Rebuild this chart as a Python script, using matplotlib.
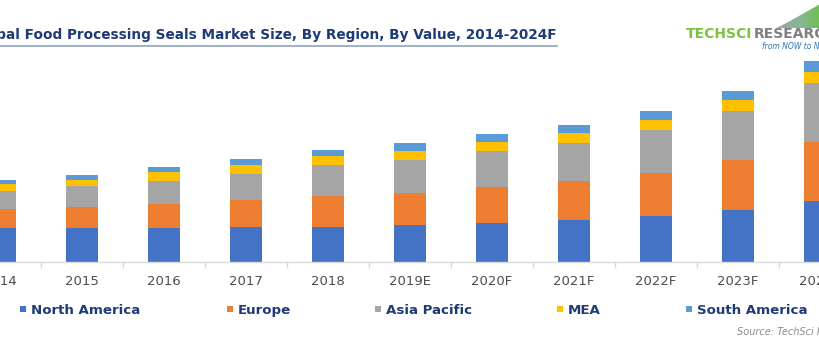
import matplotlib
matplotlib.use("Agg")
import matplotlib.pyplot as plt
import numpy as np
from matplotlib.patches import Polygon, Rectangle
from matplotlib.colors import LinearSegmentedColormap

# ---- data (arbitrary units) ----
years = ["2014", "2015", "2016", "2017", "2018", "2019E", "2020F",
         "2021F", "2022F", "2023F", "2024F"]
north_america = [34.3, 34.0, 34.0, 34.7, 34.7, 37.0, 39.3, 42.0, 45.7, 52.3, 61.3]
europe        = [18.4, 21.0, 24.3, 27.0, 31.6, 32.3, 36.0, 38.7, 43.3, 49.7, 59.0]
asia_pacific  = [18.6, 21.0, 23.0, 26.0, 30.4, 32.4, 36.0, 38.6, 43.0, 49.3, 58.4]
mea           = [6.4, 6.3, 8.7, 9.3, 9.3, 9.6, 9.0, 9.4, 9.7, 10.4, 11.3]
south_america = [4.3, 4.7, 5.0, 6.0, 6.0, 7.7, 7.7, 8.3, 9.3, 9.6, 11.0]

series_names = ["North America", "Europe", "Asia Pacific", "MEA", "South America"]
series = [north_america, europe, asia_pacific, mea, south_america]
colors = ["#4472C4", "#ED7D31", "#A5A5A5", "#FFC000", "#5B9BD5"]

W, H = 820, 350
fig = plt.figure(figsize=(W / 100, H / 100), dpi=100)
fig.patch.set_facecolor("white")

# axes: baseline at y=262 px, categories 82 px apart, 2014 centred at x=0
ax = fig.add_axes([-0.05, (H - 262) / H, 1.1, (262 - 55) / H])
x = np.arange(len(years))
bottom = np.zeros(len(years))
for name, vals, c in zip(series_names, series, colors):
    ax.bar(x, vals, width=0.4, bottom=bottom, color=c, edgecolor="none", label=name)
    bottom += np.array(vals)

ax.set_xlim(-0.5, len(years) - 0.5)
ax.set_ylim(0, 207)
for s in ["top", "left", "right"]:
    ax.spines[s].set_visible(False)
ax.spines["bottom"].set_color("#D9D9D9")
ax.spines["bottom"].set_linewidth(1.0)
ax.set_yticks([])
ax.set_xticks(x)
ax.set_xticklabels(years, fontsize=9.5, color="#4D4D4D", family="DejaVu Sans")
ax.set_xticks(np.arange(-0.5, len(years), 1.0), minor=True)
ax.tick_params(axis="x", which="major", length=0, pad=9.5)
ax.tick_params(axis="x", which="minor", length=4, color="#D9D9D9", width=1)

# title (left part clipped by the figure edge, as in the reference)
navy = "#1F3A75"
fig.text(557 / W, (H - 35) / H,
         "Global Food Processing Seals Market Size, By Region, By Value, 2014-2024F",
         ha="right", va="center", fontsize=9.8, fontweight="bold", color=navy,
         family="DejaVu Sans")
fig.add_artist(plt.Line2D([0, 557 / W], [(H - 45.5) / H] * 2,
                          transform=fig.transFigure, color="#8FA3BF", lw=1.2))

# legend (drawn manually so all labels share one baseline)
legend_marker_x = [20, 227, 375, 557, 686]
for name, c, mx in zip(series_names, colors, legend_marker_x):
    fig.add_artist(Rectangle((mx / W, (H - 312) / H), 6 / W, 6 / H,
                             transform=fig.transFigure, facecolor=c,
                             edgecolor="none"))
    fig.text((mx + 11) / W, (H - 314) / H, name, ha="left", va="baseline",
             fontsize=9.6, fontweight="bold", color=navy, family="DejaVu Sans")

# source
fig.text(737 / W, (H - 332) / H, "Source: TechSci Research", ha="left",
         va="center", fontsize=7, style="italic", color="#8C8C8C",
         family="DejaVu Sans")

# logo
fig.text(686 / W, (H - 34) / H, "TECHSCI", ha="left", va="center",
         fontsize=10, fontweight="semibold", color="#7DC142", family="DejaVu Sans")
fig.text(754 / W, (H - 34) / H, "RESEARCH", ha="left", va="center",
         fontsize=10, fontweight="semibold", color="#7F7F7F", family="DejaVu Sans")
fig.text(762 / W, (H - 46.5) / H, "from NOW to NEXT", ha="left", va="center",
         fontsize=5.5, style="italic", color="#2E75B6", family="DejaVu Sans")
# swoosh with gradient
gax = fig.add_axes([0, 0, 1, 1], zorder=-1)
gax.set_axis_off()
gax.set_xlim(0, 1)
gax.set_ylim(0, 1)
pts = np.array([[776, 28.5], [822, 28.5], [822, 3], [806, 12], [790, 21]])
grad = np.linspace(0, 1, 256).reshape(1, -1)
cm = LinearSegmentedColormap.from_list("sw", ["#A0A0A0", "#8AB59A", "#6CC04A"])
im = gax.imshow(grad, extent=[776 / W, 822 / W, (H - 28.5) / H, (H - 3) / H],
                cmap=cm, aspect="auto", zorder=1)
poly = Polygon(np.column_stack([pts[:, 0] / W, (H - pts[:, 1]) / H]),
               closed=True, transform=gax.transData, facecolor="none",
               edgecolor="none")
gax.add_patch(poly)
im.set_clip_path(poly)

fig.savefig("out.png", dpi=100, facecolor="white")
